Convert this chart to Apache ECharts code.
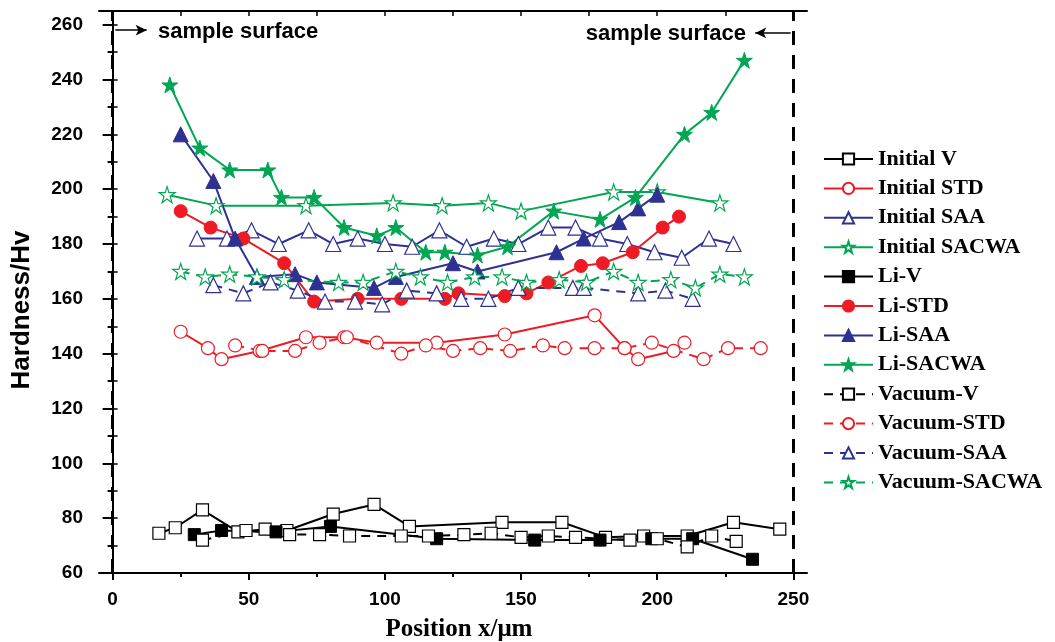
<!DOCTYPE html>
<html>
<head>
<meta charset="utf-8">
<script src="https://cdn.jsdelivr.net/npm/echarts@6/dist/echarts.min.js"></script>
<style>
  html, body { margin: 0; padding: 0; background: #fff; }
  #chart { width: 1055px; height: 642px; }
</style>
</head>
<body>
<div id="chart"></div>
<script>
// [position µm, hardness Hv]
const initialV = [[17, 74.5], [23, 76.5], [33, 83], [46, 75], [56, 76], [64, 75.5], [81, 81.5], [96, 85], [109, 77], [143, 78.5], [165, 78.5], [181, 73], [195, 73.5], [211, 73.5], [228, 78.5], [245, 76]];
const initialSTD = [[25, 148], [35, 142], [40, 138], [54, 141], [71, 146], [85, 146], [97, 144], [119, 144], [144, 147], [177, 154], [188, 142], [193, 138], [206, 141], [210, 144]];
const initialSAA = [[31, 182], [42, 182], [51, 185], [61, 180], [72, 185], [81, 180], [90, 182], [100, 180], [110, 179], [120, 185], [130, 179], [140, 182], [149, 180], [160, 186], [170, 186], [179, 182], [189, 180], [199, 177], [209, 175], [219, 182], [228, 180]];
const initialSACWA = [[20, 198], [38, 194], [71, 194], [103, 195], [121, 194], [138, 195], [150, 192], [184, 199], [200, 199], [223, 195]];
const liV = [[30, 74], [40, 75.5], [60, 75], [80, 77], [119, 72.5], [155, 72], [179, 72], [198, 72.5], [213, 72.5], [235, 65]];
const liSTD = [[25, 192], [36, 186], [48, 182], [63, 173], [74, 159], [90, 160], [106, 160], [122, 160], [127, 162], [144, 161], [152, 162], [160, 166], [172, 172], [180, 173], [191, 177], [202, 186], [208, 190]];
const liSAA = [[25, 220], [37, 203], [45, 182], [53, 168], [67, 169], [75, 166], [96, 164], [104, 168], [125, 173], [134, 170], [163, 177], [173, 182], [186, 188], [193, 193], [200, 198]];
const liSACWA = [[21, 238], [32, 215], [43, 207], [57, 207], [62, 197], [74, 197], [85, 186], [97, 183], [104, 186], [115, 177], [122, 177], [134, 176], [145, 179], [162, 192], [179, 189], [192, 197], [210, 220], [220, 228], [232, 247]];
const vacuumV = [[33, 72], [49, 75.5], [65, 74], [76, 74], [87, 73.5], [106, 73.5], [116, 73.5], [129, 74], [139, 74.5], [150, 73], [160, 73.5], [170, 73], [190, 72], [200, 72.5], [211, 69.5], [220, 73.5], [229, 71.5]];
const vacuumSTD = [[45, 143], [55, 141], [67, 141], [76, 144], [86, 146], [106, 140], [115, 143], [125, 141], [135, 142], [146, 141], [158, 143], [166, 142], [177, 142], [188, 142], [198, 144], [217, 138], [226, 142], [238, 142]];
const vacuumSAA = [[37, 165], [48, 162], [58, 166], [68, 163], [78, 159], [89, 159], [99, 158], [108, 163], [119, 162], [128, 160], [138, 160], [149, 164], [169, 164], [173, 164], [193, 162], [203, 163], [213, 160]];
const vacuumSACWA = [[25, 170], [34, 168], [43, 169], [53, 168], [63, 167], [83, 166], [92, 166], [104, 170], [113, 168], [123, 166], [133, 168], [143, 168], [152, 166], [164, 167], [174, 166], [184, 170], [193, 166], [205, 167], [214, 164], [223, 169], [232, 168]];

const xMajorTicks = [0, 50, 100, 150, 200, 250];
const xMinorTicks = [25, 75, 125, 175, 225];
const xAllTicks = [0, 25, 50, 75, 100, 125, 150, 175, 200, 225, 250];

const BLACK = '#000000';
const RED = '#ed1c24';
const BLUE = '#2e3192';
const GREEN = '#00a651';

const STAR = 'path://M50,0 L61.8,35.4 L100,35.4 L69.1,57.3 L80.9,95.1 L50,72.7 L19.1,95.1 L30.9,57.3 L0,35.4 L38.2,35.4 Z';
const SIZES = { rect: 12, circle: 13, triangle: 15 };

function makeSeries(name, data, color, symbol, filled, dashed) {
  return {
    name,
    type: 'line',
    data,
    symbol,
    symbolSize: symbol === STAR ? 16 : SIZES[symbol],
    lineStyle: { color, width: 2, type: dashed ? [9, 7] : 'solid' },
    itemStyle: {
      color: filled ? color : '#ffffff',
      borderColor: color,
      borderWidth: filled ? 1 : 1.2,
    },
    emphasis: { disabled: true },
    animation: false,
  };
}

const series = [
  makeSeries('Initial V', initialV, BLACK, 'rect', false, false),
  makeSeries('Initial STD', initialSTD, RED, 'circle', false, false),
  makeSeries('Initial SAA', initialSAA, BLUE, 'triangle', false, false),
  makeSeries('Initial SACWA', initialSACWA, GREEN, STAR, false, false),
  makeSeries('Li-V', liV, BLACK, 'rect', true, false),
  makeSeries('Li-STD', liSTD, RED, 'circle', true, false),
  makeSeries('Li-SAA', liSAA, BLUE, 'triangle', true, false),
  makeSeries('Li-SACWA', liSACWA, GREEN, STAR, true, false),
  makeSeries('Vacuum-V', vacuumV, BLACK, 'rect', false, true),
  makeSeries('Vacuum-STD', vacuumSTD, RED, 'circle', false, true),
  makeSeries('Vacuum-SAA', vacuumSAA, BLUE, 'triangle', false, true),
  makeSeries('Vacuum-SACWA', vacuumSACWA, GREEN, STAR, false, true),
];

// surface markers: dashed boundaries and arrows
series.push({
  type: 'line',
  data: [],
  silent: true,
  animation: false,
  markLine: {
    silent: true,
    animation: false,
    symbol: ['none', 'none'],
    label: { show: false },
    data: [
      { xAxis: 0, lineStyle: { color: BLACK, width: 3, type: [14, 10] } },
      { xAxis: 250, lineStyle: { color: BLACK, width: 3, type: [14, 10] } },
      [
        { coord: [1, 258], symbol: 'none', lineStyle: { color: BLACK, width: 1.5, type: 'solid' } },
        { coord: [12.5, 258], symbol: 'arrow', symbolSize: [8, 11] },
      ],
      [
        { coord: [249, 257], symbol: 'none', lineStyle: { color: BLACK, width: 1.5, type: 'solid' } },
        { coord: [236, 257], symbol: 'arrow', symbolSize: [8, 11] },
      ],
    ],
  },
});

const sans = 'Liberation Sans, Arial, sans-serif';
const serif = 'Liberation Serif, Times New Roman, serif';

const chart = echarts.init(document.getElementById('chart'));
chart.setOption({
  backgroundColor: '#ffffff',
  animation: false,
  grid: {
    left: 99, right: 248, top: 11, bottom: 69, outerBoundsMode: 'none',
  },
  legend: {
    orient: 'vertical',
    left: 823,
    top: 148,
    padding: 0,
    itemWidth: 49,
    itemHeight: 14,
    itemGap: 7.4,
    selectedMode: false,
    data: series.slice(0, 12).map((s) => s.name),
    textStyle: {
      fontFamily: serif, fontWeight: 'bold', fontSize: 22, color: BLACK, lineHeight: 22,
    },
  },
  xAxis: [
    {
      type: 'value',
      min: -5,
      max: 255,
      name: 'Position x/μm',
      nameLocation: 'middle',
      nameGap: 44,
      nameTextStyle: {
        fontFamily: serif, fontWeight: 'bold', fontSize: 25, color: BLACK, padding: [0, 0, 0, 12],
      },
      axisLine: { lineStyle: { color: BLACK, width: 2 } },
      axisTick: { inside: false, length: 7, customValues: xMajorTicks, lineStyle: { color: BLACK, width: 2 } },
      axisLabel: {
        margin: 17, fontFamily: sans, fontWeight: 'bold', fontSize: 19, color: BLACK,
        customValues: xMajorTicks,
      },
      splitLine: { show: false },
    },
    {
      type: 'value',
      position: 'bottom',
      min: -5,
      max: 255,
      axisLine: { show: false },
      axisTick: { inside: false, length: 4, customValues: xMinorTicks, lineStyle: { color: BLACK, width: 2 } },
      axisLabel: { show: false },
      splitLine: { show: false },
    },
    {
      type: 'value',
      position: 'top',
      min: -5,
      max: 255,
      axisLine: { lineStyle: { color: BLACK, width: 2 } },
      axisTick: { inside: true, length: 5, customValues: xAllTicks, lineStyle: { color: BLACK, width: 1.5 } },
      axisLabel: { show: false },
      splitLine: { show: false },
    },
  ],
  yAxis: [
    {
      type: 'value',
      min: 60,
      max: 265,
      interval: 20,
      axisLine: { show: true, lineStyle: { color: BLACK, width: 2 } },
      axisTick: { show: true, inside: false, length: 10, lineStyle: { color: BLACK, width: 2 } },
      minorTick: { show: true, splitNumber: 2, length: 5, lineStyle: { color: BLACK, width: 2 } },
      axisLabel: {
        margin: 16, fontFamily: sans, fontWeight: 'bold', fontSize: 19, color: BLACK,
        showMaxLabel: false,
      },
      splitLine: { show: false },
    },
    {
      type: 'value',
      position: 'right',
      min: 60,
      max: 265,
      interval: 20,
      axisLine: { show: true, lineStyle: { color: BLACK, width: 2 } },
      axisTick: { show: true, inside: false, length: 5, lineStyle: { color: BLACK, width: 1.5 } },
      minorTick: { show: true, splitNumber: 2, length: 5, lineStyle: { color: BLACK, width: 1.5 } },
      axisLabel: { show: false },
      splitLine: { show: false },
    },
  ],
  graphic: [
    {
      type: 'text',
      x: 22,
      y: 310,
      rotation: Math.PI / 2,
      silent: true,
      style: {
        text: 'Hardness/Hv', fill: BLACK, font: 'bold 26px ' + sans,
        textAlign: 'center', textVerticalAlign: 'middle',
      },
    },
    {
      type: 'text',
      x: 158,
      y: 32,
      silent: true,
      style: {
        text: 'sample surface', fill: BLACK, font: 'bold 22px ' + sans,
        textAlign: 'left', textVerticalAlign: 'middle',
      },
    },
    {
      type: 'text',
      x: 746,
      y: 34,
      silent: true,
      style: {
        text: 'sample surface', fill: BLACK, font: 'bold 22px ' + sans,
        textAlign: 'right', textVerticalAlign: 'middle',
      },
    },
  ],
  series,
});
</script>
</body>
</html>
